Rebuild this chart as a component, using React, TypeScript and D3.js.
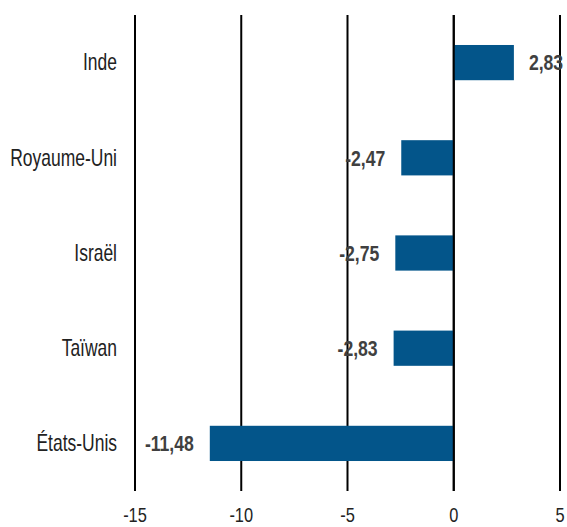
import React from "react";
import * as d3 from "d3";

const categories = ["Inde", "Royaume-Uni", "Israël", "Taïwan", "États-Unis"];
const values = [2.83, -2.47, -2.75, -2.83, -11.48];
const ticks = [-15, -10, -5, 0, 5];

const W = 567;
const H = 527;
const FONT = "'Liberation Sans', Arial, sans-serif";

function NText(props: {
  x: number;
  y: number;
  anchor: "start" | "middle" | "end";
  size: number;
  sx: number;
  weight?: string;
  fill: string;
  children: React.ReactNode;
}) {
  return (
    <g transform={`translate(${props.x},${props.y}) scale(${props.sx},1)`}>
      <text
        x={0}
        y={0}
        textAnchor={props.anchor}
        dominantBaseline="central"
        fontFamily={FONT}
        fontSize={props.size}
        fontWeight={props.weight || "normal"}
        fill={props.fill}
      >
        {props.children}
      </text>
    </g>
  );
}

export default function App() {
  const x = d3.scaleLinear().domain([-15, 5]).range([135, 560]);
  const y = d3
    .scaleBand<string>()
    .domain(categories)
    .range([15, 491])
    .paddingInner(0.63)
    .paddingOuter(0.315);
  const fmt = (v: number) => v.toFixed(2).replace(".", ",");
  return (
    <svg width={W} height={H} style={{ position: "absolute", left: 0, top: 0, background: "#fff" }}>
      {ticks.map((t) => (
        <g key={t}>
          <line x1={x(t)} x2={x(t)} y1={15} y2={491} stroke="#000" strokeWidth={2} />
          <NText x={x(t)} y={515} anchor="middle" size={20} sx={0.82} fill="#222">
            {t}
          </NText>
        </g>
      ))}
      {categories.map((c, i) => {
        const v = values[i];
        const yc = (y(c) as number) + y.bandwidth() / 2;
        return (
          <g key={c}>
            <rect
              x={Math.min(x(0), x(v))}
              y={y(c)}
              width={Math.abs(x(v) - x(0))}
              height={y.bandwidth()}
              fill="#03558a"
            />
            <NText x={117} y={yc} anchor="end" size={23} sx={0.76} fill="#222">
              {c}
            </NText>
            <NText
              x={v >= 0 ? x(v) + 15 : x(v) - 16}
              y={yc}
              anchor={v >= 0 ? "start" : "end"}
              size={22}
              sx={0.8}
              weight="bold"
              fill="#404040"
            >
              {fmt(v)}
            </NText>
          </g>
        );
      })}
      <line x1={x(0)} x2={x(0)} y1={15} y2={491} stroke="#000" strokeWidth={2} />
    </svg>
  );
}
